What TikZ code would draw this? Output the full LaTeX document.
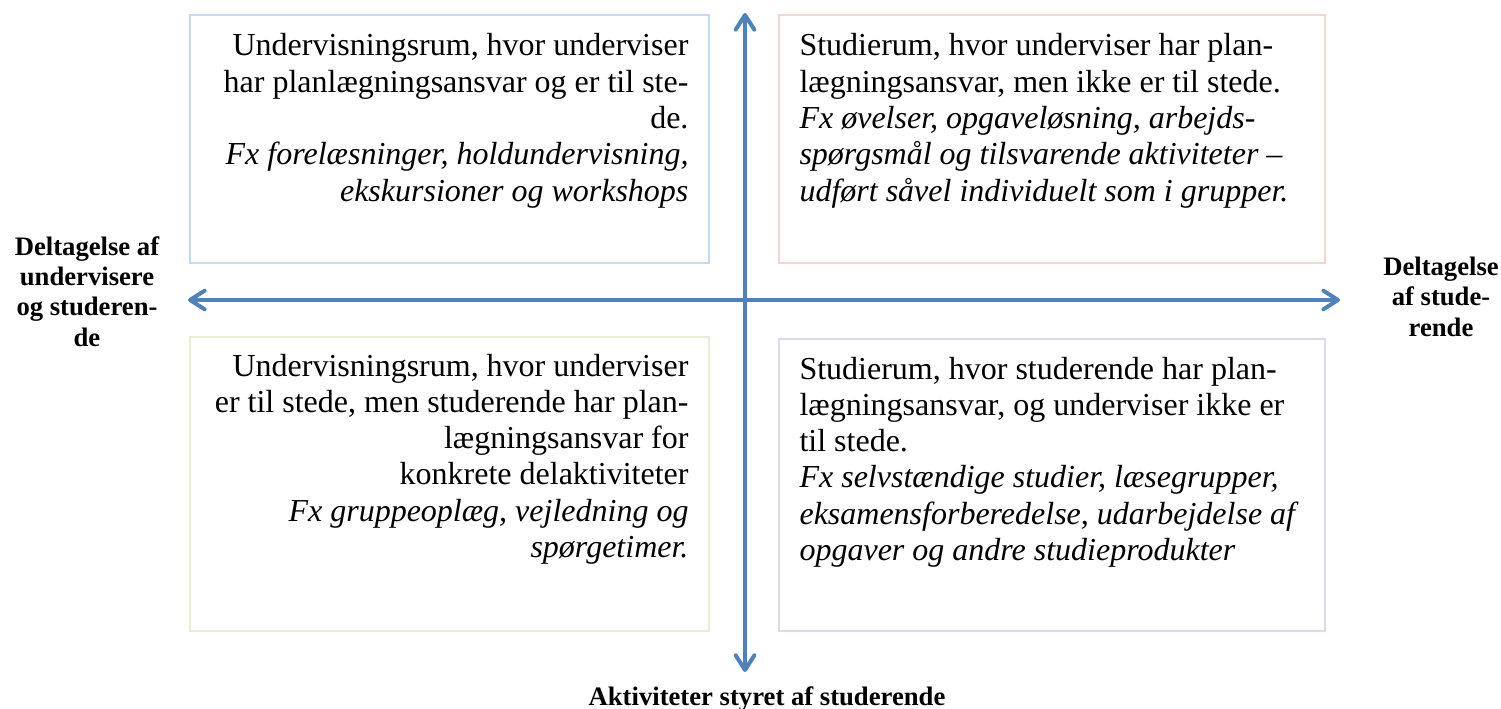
\documentclass[tikz,border=0pt]{standalone}
\usepackage{fontspec}
\IfFontExistsTF{LiberationSerif-Italic.ttf}{%
  \setmainfont{LiberationSerif}[Extension=.ttf,
    UprightFont=*-Regular, BoldFont=*-Bold,
    ItalicFont=*-Italic, BoldItalicFont=*-BoldItalic]}{%
  \setmainfont{Liberation Serif}[
    BoldFont={Liberation Serif Bold},
    ItalicFont={Liberation Serif},
    ItalicFeatures={FakeSlant=0.21}]}
\usetikzlibrary{arrows.meta}
\definecolor{axisblue}{RGB}{79,129,189}
\definecolor{bxblue}{RGB}{198,217,241}
\definecolor{bxred}{RGB}{242,214,214}
\definecolor{bxgreen}{RGB}{230,238,214}
\definecolor{bxpurple}{RGB}{222,216,234}
\tikzset{
  quad/.style={draw=#1, line width=0.9pt},
  axis/.style={draw=axisblue, line width=1.5pt,
    {Straight Barb[length=5.5pt,width=7pt,line cap=round,line join=round]}-{Straight Barb[length=5.5pt,width=7pt,line cap=round,line join=round]}},
  rtext/.style={anchor=base east, inner sep=0pt, font=\fontsize{12}{13.6}\selectfont},
  ltext/.style={anchor=base west, inner sep=0pt, font=\fontsize{12}{13.6}\selectfont},
  lab/.style={inner sep=0pt, anchor=base, align=center, font=\fontsize{10}{11.3}\selectfont\bfseries}
}
\begin{document}
\begin{tikzpicture}[x=0.375pt,y=-0.375pt]
\useasboundingbox (0,0) rectangle (1501,709);
% quadrant boxes
\path[quad=bxblue] (190,15) rectangle (709,263);
\path[quad=bxred] (779,15) rectangle (1325,263);
\path[quad=bxgreen] (190,337) rectangle (709,631);
\path[quad=bxpurple] (779,339) rectangle (1325,631);
% axes
\coordinate (vtop) at (745,13);
\coordinate (vbot) at (745,672);
\coordinate (hleft) at (188,300);
\coordinate (hright) at (1340,300);
\draw[axis] (hleft) -- (hright);
\draw[axis] (vbot) -- (vtop);
% texts
\node[rtext] (tl) at (689,56) {\parbox[t]{200pt}{\raggedleft
Undervisningsrum, hvor underviser\\
har planlægningsansvar og er til ste-\\
de.\\
\textit{Fx forelæsninger, holdundervisning,}\\
\textit{ekskursioner og workshops}}};
\node[ltext] (tr) at (799,56) {\parbox[t]{200pt}{\raggedright
Studierum, hvor underviser har plan-\\
lægningsansvar, men ikke er til stede.\\
\textit{Fx øvelser, opgaveløsning, arbejds-}\\
\textit{spørgsmål og tilsvarende aktiviteter –}\\
\textit{udført såvel individuelt som i grupper.}}};
\node[rtext] (bl) at (689,376) {\parbox[t]{200pt}{\raggedleft
Undervisningsrum, hvor underviser\\
er til stede, men studerende har plan-\\
lægningsansvar for\\
konkrete delaktiviteter\\
\textit{Fx gruppeoplæg, vejledning og}\\
\textit{spørgetimer.}}};
\node[ltext] (br) at (799,379) {\parbox[t]{200pt}{\raggedright
Studierum, hvor studerende har plan-\\
lægningsansvar, og underviser ikke er\\
til stede.\\
\textit{Fx selvstændige studier, læsegrupper,}\\
\textit{eksamensforberedelse, udarbejdelse af}\\
\textit{opgaver og andre studieprodukter}}};
% axis labels (base anchor = last line baseline)
\node[lab] (left) at (87,346) {Deltagelse af\\undervisere\\og studeren-\\de};
\node[lab] (right) at (1441,336) {Deltagelse\\af stude-\\rende};
\node[lab] (bottom) at (767,705) {Aktiviteter styret af studerende};
\end{tikzpicture}
\end{document}
